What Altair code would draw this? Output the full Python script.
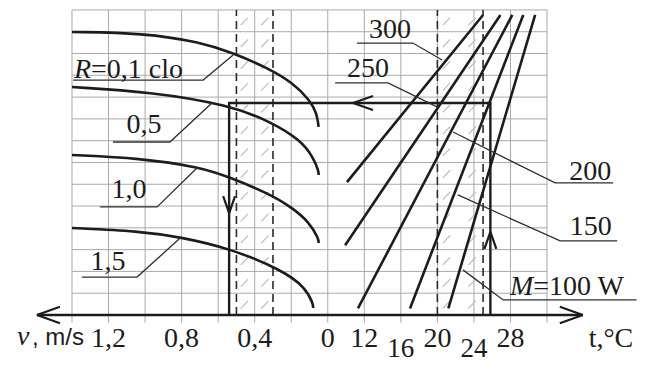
import altair as alt
import pandas as pd

# ---------------- data ----------------
# left half: air velocity v (m/s); right half: air temperature t (deg C)
v_ticks = [1.2, 0.8, 0.4, 0.0]
v_tick_labels = ["1,2", "0,8", "0,4", "0"]
t_ticks = [12, 16, 20, 24, 28]
t_tick_labels = ["12", "16", "20", "24", "28"]

# clothing insulation curves R (clo): v values and height (grid rows)
R_names = ["0,1", "0,5", "1,0", "1,5"]
R01_v = [1.40, 1.01, 0.70, 0.52, 0.33, 0.19, 0.10, 0.06, 0.05]
R01_y = [12.99, 12.94, 12.53, 12.03, 11.34, 10.65, 9.87, 9.27, 8.63]
R05_v = [1.40, 0.97, 0.54, 0.31, 0.15, 0.08, 0.05, 0.05]
R05_y = [10.46, 10.24, 9.64, 8.86, 8.03, 7.25, 6.60, 6.42]
R10_v = [1.40, 1.03, 0.70, 0.54, 0.33, 0.20, 0.10, 0.05, 0.05]
R10_y = [7.34, 7.20, 6.79, 6.33, 5.60, 4.96, 4.25, 3.50, 3.30]
R15_v = [1.40, 1.03, 0.81, 0.54, 0.25, 0.12, 0.08, 0.08]
R15_y = [3.99, 3.85, 3.58, 3.07, 2.07, 1.25, 0.50, 0.32]

# metabolic rate lines M (W): start / end in (t, grid row)
M_values = [300, 250, 200, 150, 100]
M_t_start = [10.1, 9.9, 11.3, 17.0, 21.2]
M_y_start = [6.1, 3.2, 0.3, 0.3, 0.3]
M_t_end = [25.0, 26.9, 28.2, 29.4, 30.7]
M_y_end = [13.77, 13.77, 13.77, 13.77, 13.77]

# comfort bands (dashed)
comfort_v = [0.3, 0.5]
comfort_t = [20, 25]

# worked example path
example_v = 0.54
example_t = 25.8
example_y = 9.73
arrow_left_t = 10.76
arrow_up_y = 3.81
arrow_down_y = 4.68

# ---------------- helpers ----------------
def vcol(v):
    return 7 - 5 * v


def tcol(t):
    return 8 + (t - 12) / 4


N_COLS = 13
N_ROWS = 14
X_DOM = [-1.7515, 15.490]
Y_DOM = [-2.2487, 14.089]
INK = "#1c1c1c"
SERIF = "Liberation Serif"
FS = 28


def X(f="u"):
    return alt.X(f, type="quantitative", scale=alt.Scale(domain=X_DOM, nice=False, zero=False), axis=None)


def Y(f="r"):
    return alt.Y(f, type="quantitative", scale=alt.Scale(domain=Y_DOM, nice=False, zero=False), axis=None)


layers = []

# grid
vgrid = pd.DataFrame({"u": list(range(N_COLS + 1))})
vgrid["r"] = -0.35
vgrid["r2"] = N_ROWS
layers.append(alt.Chart(vgrid).mark_rule(color="#a9a9a9", strokeWidth=1).encode(
    x=X(), y=Y(), y2="r2"))
hgrid = pd.DataFrame({"r": list(range(1, N_ROWS + 1))})
hgrid["u"] = 0
hgrid["u2"] = N_COLS
layers.append(alt.Chart(hgrid).mark_rule(color="#a9a9a9", strokeWidth=1).encode(
    x=X(), x2="u2", y=Y()))

# hatching inside comfort bands
hatch = []
for lo, hi in [(vcol(comfort_v[1]), vcol(comfort_v[0])), (tcol(comfort_t[0]), tcol(comfort_t[1]))]:
    w = hi - lo
    for i in range(N_ROWS):
        for f in (0.12, 0.68):
            k = len(hatch)
            hatch.append({"id": k, "o": 0, "u": lo + f * w, "r": i + 0.3})
            hatch.append({"id": k, "o": 1, "u": lo + f * w + 0.2, "r": i + 0.65})
layers.append(alt.Chart(pd.DataFrame(hatch)).mark_line(color="#bdbdbd", strokeWidth=1.2).encode(
    x=X(), y=Y(), detail="id:N", order="o:Q"))

# dashed comfort boundaries
dash = pd.DataFrame({"u": [vcol(v) for v in comfort_v] + [tcol(t) for t in comfort_t]})
dash["r"] = 0
dash["r2"] = N_ROWS
layers.append(alt.Chart(dash).mark_rule(color="#2a2a2a", strokeWidth=1.6, strokeDash=[8, 5]).encode(
    x=X(), y=Y(), y2="r2"))

# R curves
rows = []
for name, vs, ys in zip(R_names, [R01_v, R05_v, R10_v, R15_v], [R01_y, R05_y, R10_y, R15_y]):
    for k, (v, y) in enumerate(zip(vs, ys)):
        rows.append({"R": name, "k": k, "u": vcol(v), "r": y})
layers.append(alt.Chart(pd.DataFrame(rows)).mark_line(color=INK, strokeWidth=2.6, interpolate="basis").encode(
    x=X(), y=Y(), detail="R:N", order="k:Q"))

# M lines
mrows = []
for m, t0, y0, t1, y1 in zip(M_values, M_t_start, M_y_start, M_t_end, M_y_end):
    mrows.append({"M": m, "u": tcol(t0), "r": y0, "u2": tcol(t1), "r2": y1})
layers.append(alt.Chart(pd.DataFrame(mrows)).mark_rule(color=INK, strokeWidth=2.6).encode(
    x=X(), y=Y(), x2="u2", y2="r2"))

# example path
path = pd.DataFrame({
    "k": [0, 1, 2, 3],
    "u": [vcol(example_v), vcol(example_v), tcol(example_t), tcol(example_t)],
    "r": [0, example_y, example_y, 0],
})
layers.append(alt.Chart(path).mark_line(color=INK, strokeWidth=2.4).encode(
    x=X(), y=Y(), order="k:Q"))

# main axis
AX_L, AX_R = -0.96, 13.98
axis_df = pd.DataFrame({"u": [AX_L], "u2": [AX_R], "r": [0]})
layers.append(alt.Chart(axis_df).mark_rule(color=INK, strokeWidth=2.6).encode(
    x=X(), x2="u2", y=Y()))


def arrow(u, r, shape, size):
    return alt.Chart(pd.DataFrame({"u": [u], "r": [r]})).mark_point(
        shape=shape, size=size, filled=False, stroke=INK, strokeWidth=2.2, opacity=1
    ).encode(x=X(), y=Y())


layers.append(arrow(AX_L, 0, "M0,0L1,-0.36M0,0L1,0.36", 2116))
layers.append(arrow(AX_R, 0, "M0,0L-1,-0.36M0,0L-1,0.36", 2116))
layers.append(arrow(tcol(arrow_left_t), example_y, "M0,0L1,-0.35M0,0L1,0.35", 1600))
layers.append(arrow(tcol(example_t), arrow_up_y, "M0,0L-0.35,1M0,0L0.35,1", 1156))
layers.append(arrow(vcol(example_v), arrow_down_y, "M0,0L-0.35,-1M0,0L0.35,-1", 1156))

# leader lines (grid units)
leaders = [
    [(0.03, 10.78), (3.59, 10.78), (4.41, 11.93)],
    [(1.12, 7.94), (2.68, 7.94), (3.83, 9.73)],
    [(0.77, 4.96), (2.33, 4.96), (3.42, 6.75)],
    [(0.27, 1.74), (1.78, 1.74), (2.96, 3.53)],
    [(7.80, 12.48), (9.33, 12.48), (10.13, 11.70)],
    [(7.20, 10.65), (8.65, 10.65), (9.99, 9.55)],
    [(14.81, 6.06), (13.22, 6.06), (10.43, 8.40)],
    [(14.92, 3.40), (13.36, 3.40), (10.56, 5.51)],
    [(15.45, 0.69), (11.80, 0.69), (10.70, 2.07)],
]
lrows = []
for i, pts in enumerate(leaders):
    for k, (u, r) in enumerate(pts):
        lrows.append({"id": i, "k": k, "u": u, "r": r})
layers.append(alt.Chart(pd.DataFrame(lrows)).mark_line(color="#2e2e2e", strokeWidth=1.3).encode(
    x=X(), y=Y(), detail="id:N", order="k:Q"))


def text(df, align="center", font=SERIF, size=FS, style="normal"):
    return alt.Chart(pd.DataFrame(df)).mark_text(
        font=font, fontSize=size, fontStyle=style, align=align, baseline="alphabetic", color=INK
    ).encode(x=X(), y=Y(), text="s:N")


# tick labels
ticks = [{"s": s, "u": vcol(v), "r": -1.47} for v, s in zip(v_ticks, v_tick_labels)]
ticks += [{"s": s, "u": tcol(t), "r": (-1.93 if i % 2 else -1.47)} for i, (t, s) in enumerate(zip(t_ticks, t_tick_labels))]
ticks += [{"s": "t,°C", "u": 14.75, "r": -1.47}]
layers.append(text([d for d in ticks if d["r"] > -1.5]))
layers.append(text([d for d in ticks if d["r"] < -1.5], size=27).encode(
    x=X(), y=Y(), text="s:N"
).transform_calculate(dummy="0"))
layers.append(text([{"s": "v", "u": -1.505, "r": -1.38}], align="left", style="italic"))
layers.append(text([{"s": ", m/s", "u": -1.095, "r": -1.38}], align="left", font="Liberation Sans", size=24))

# annotation labels
centered = [
    {"s": R_names[1], "u": 1.97, "r": 8.35},
    {"s": R_names[2], "u": 1.56, "r": 5.37},
    {"s": R_names[3], "u": 0.985, "r": 2.07},
    {"s": str(M_values[0]), "u": 8.70, "r": 12.71},
    {"s": str(M_values[1]), "u": 8.10, "r": 10.92},
    {"s": str(M_values[2]), "u": 14.18, "r": 6.20},
    {"s": str(M_values[3]), "u": 14.20, "r": 3.67},
]
layers.append(text(centered))
layers.append(text([{"s": "R", "u": 0.055, "r": 10.88}, {"s": "M", "u": 11.99, "r": 0.92}],
                   align="left", style="italic"))
layers.append(text([{"s": "=" + R_names[0] + " clo", "u": 0.52, "r": 10.88},
                    {"s": "=" + str(M_values[4]) + " W", "u": 12.62, "r": 0.92}], align="left"))

chart = alt.layer(*layers).properties(
    width=630, height=356, autosize=alt.AutoSizeParams(type="none"), padding=0
).configure_view(stroke=None)

chart.save("out.html", embed_options={"renderer": "svg", "actions": False})
